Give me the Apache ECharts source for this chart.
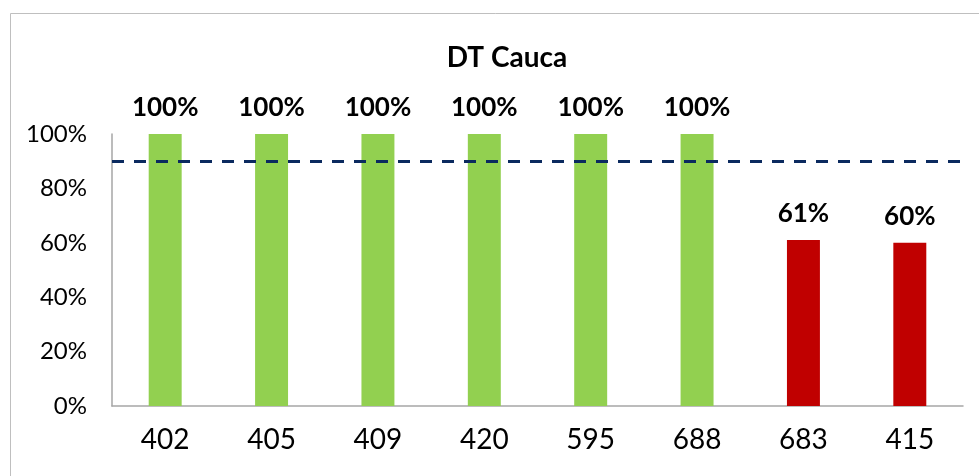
<!DOCTYPE html>
<html>
<head>
<meta charset="utf-8">
<script src="https://cdn.jsdelivr.net/npm/echarts@6/dist/echarts.min.js"></script>
<style>
  html, body { margin: 0; padding: 0; background: #fff; }
  #grafico { width: 979px; height: 476px; }
</style>
</head>
<body>
<div id="grafico"></div>
<script>
// datos
const categorias = ["402", "405", "409", "420", "595", "688", "683", "415"];
const valores = [100, 100, 100, 100, 100, 100, 61, 60];
const meta = 90;
const ticksY = [0, 20, 40, 60, 80, 100];

const verde = "#92D050";
const rojo = "#C00000";
const fuente = "Lato, 'Open Sans', sans-serif";

const contenedor = document.getElementById("grafico");
const miGrafico = echarts.init(contenedor, null, { renderer: "canvas" });

const option = {
  backgroundColor: "#fff",
  animation: false,
  title: {
    text: "DT Cauca",
    left: 502,
    top: 39,
    textAlign: "center",
    textStyle: { fontFamily: fuente, fontSize: 28, fontWeight: "bold", color: "#000" },
  },
  graphic: [
    {
      type: "rect",
      shape: { x: 10.5, y: 13.5, width: 1000, height: 600 },
      style: { fill: "none", stroke: "#bfbfbf", lineWidth: 1 },
      silent: true,
    },
  ],
  grid: { left: 112, right: 16, top: 134, bottom: 70 },
  xAxis: {
    type: "category",
    data: categorias,
    axisLine: { lineStyle: { color: "#a6a6a6", width: 1.5 } },
    axisTick: { show: false },
    axisLabel: { fontFamily: fuente, fontSize: 28, color: "#000", margin: 20 },
  },
  yAxis: {
    type: "value",
    min: ticksY[0],
    max: ticksY[ticksY.length - 1],
    interval: 20,
    axisLine: { show: true, lineStyle: { color: "#a6a6a6", width: 1.5 } },
    axisTick: { show: false },
    splitLine: { show: false },
    axisLabel: {
      fontFamily: fuente,
      fontSize: 24,
      color: "#000",
      margin: 25,
      formatter: (v) => v + "%",
    },
  },
  series: [
    {
      type: "bar",
      barWidth: "31%",
      data: valores.map((v) => ({
        value: v,
        itemStyle: { color: v >= meta ? verde : rojo },
      })),
      label: {
        show: true,
        position: "top",
        distance: 13,
        fontFamily: fuente,
        fontSize: 26,
        fontWeight: "bold",
        color: "#000",
        formatter: (p) => p.value + "%",
      },
      markLine: {
        silent: true,
        symbol: "none",
        label: { show: false },
        lineStyle: { color: "#0b2a5f", width: 3, type: [12, 10] },
        data: [{ yAxis: meta }],
      },
    },
  ],
};

miGrafico.setOption(option);
</script>
</body>
</html>
